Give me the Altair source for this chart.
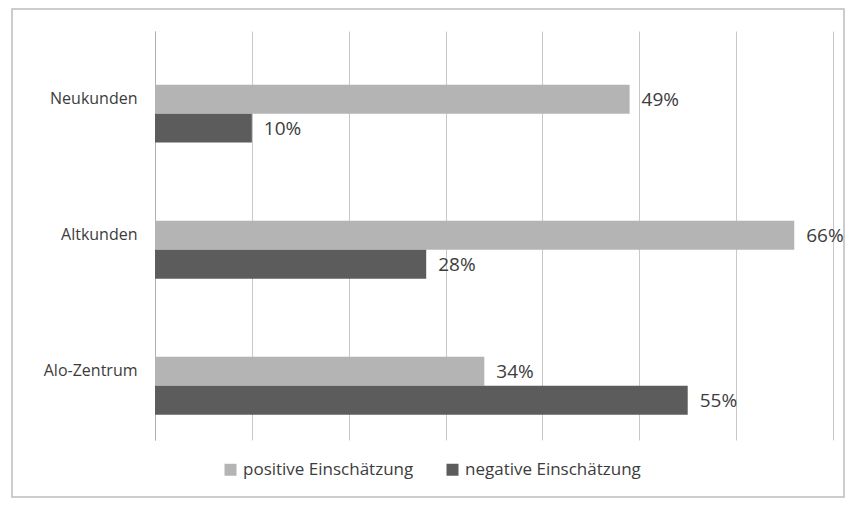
import altair as alt
import pandas as pd

categories = ["Neukunden", "Altkunden", "Alo-Zentrum"]
series = ["positive Einschätzung", "negative Einschätzung"]
positive = [0.49, 0.66, 0.34]
negative = [0.10, 0.28, 0.55]
x_ticks = [0, 0.1, 0.2, 0.3, 0.4, 0.5, 0.6, 0.7]

rows = []
for c, p, n in zip(categories, positive, negative):
    rows.append({"Kategorie": c, "Serie": series[0], "Wert": p})
    rows.append({"Kategorie": c, "Serie": series[1], "Wert": n})
df = pd.DataFrame(rows)

FONT = "Open Sans"
TXT = "#3c3c3c"

y_enc = alt.Y("Kategorie:N", sort=categories, title=None,
              scale=alt.Scale(paddingInner=0.574, paddingOuter=0.29, align=0.68),
              axis=alt.Axis(labelFontSize=16, labelColor=TXT, labelFont=FONT,
                            labelPadding=18, labelOffset=-15, ticks=False,
                            domainColor="#b0b0b0", grid=False))
x_enc = alt.X("Wert:Q", title=None,
              scale=alt.Scale(domain=[0, 0.7], nice=False),
              axis=alt.Axis(values=x_ticks, labels=False, ticks=False, domain=False,
                            grid=True, gridColor="#c8c8c8", gridWidth=1))

base = alt.Chart(df)

bars = base.mark_bar().encode(
    x=x_enc,
    y=y_enc,
    yOffset=alt.YOffset("Serie:N", sort=series, scale=alt.Scale(paddingInner=0)),
    color=alt.Color("Serie:N", sort=series,
                    scale=alt.Scale(domain=series, range=["#b4b4b4", "#5c5c5c"]),
                    legend=alt.Legend(title=None, orient="none", direction="horizontal",
                                      legendX=67, legendY=430, symbolType="square",
                                      symbolSize=144, symbolStrokeWidth=0,
                                      labelFontSize=17, labelFont=FONT,
                                      labelColor=TXT, columnPadding=30,
                                      labelOffset=4, labelLimit=400)),
)

labels = base.mark_text(align="left", baseline="middle", dx=12, dy=1,
                        fontSize=19, font=FONT, color=TXT).encode(
    x="Wert:Q",
    y=alt.Y("Kategorie:N", sort=categories),
    yOffset=alt.YOffset("Serie:N", sort=series),
    text=alt.Text("Wert:Q", format=".0%"),
)

frame = alt.Chart(pd.DataFrame({"k": [0]})).mark_rect(
    fill=None, stroke="#bdbdbd", strokeWidth=1.5
).encode(x=alt.value(-143), x2=alt.value(689), y=alt.value(-22), y2=alt.value(466))

chart = alt.layer(frame, bars, labels).properties(
    width=678, height=409,
    autosize=alt.AutoSizeParams(type="none"),
    padding={"left": 147, "top": 23, "right": 13, "bottom": 59},
    background="#ffffff",
).configure_view(stroke=None)

chart.save("out.html", embed_options={"renderer": "svg", "actions": False})
